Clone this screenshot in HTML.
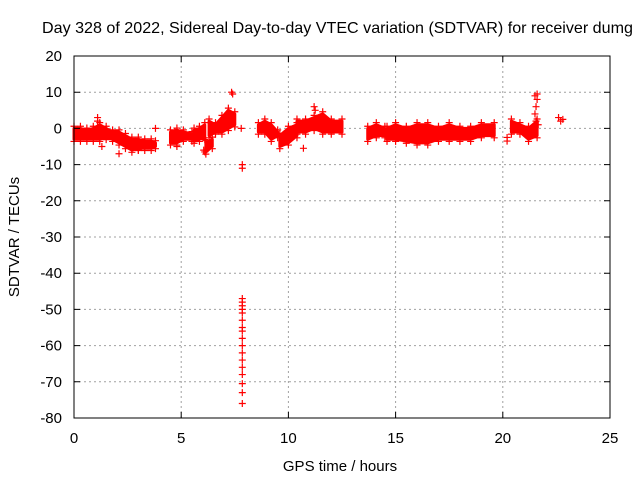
<!DOCTYPE html>
<html><head><meta charset="utf-8"><style>
body{margin:0;background:#fff;}
svg{display:block;font-family:"Liberation Sans",sans-serif;}
</style></head><body>
<svg id="chart" width="640" height="480">
<text x="42" y="33" font-size="16.1">Day 328 of 2022, Sidereal Day-to-day VTEC variation (SDTVAR) for receiver dumg</text>
<text x="340" y="471" font-size="15" text-anchor="middle">GPS time / hours</text>
<text transform="translate(19,237) rotate(-90)" font-size="15" text-anchor="middle">SDTVAR / TECUs</text>
<g id="grid"></g><g id="marks"></g><g id="axes"></g>
</svg>
<script>
const xTicks=[0,5,10,15,20,25];
const yTicks=[20,10,0,-10,-20,-30,-40,-50,-60,-70,-80];
// band clusters: times, lower envelope, upper envelope
const bandT=[[0,0.3,0.6,0.9,1.2,1.5,1.8,2.1,2.4,2.7,3.0,3.3,3.6,3.8],[4.5,4.8,5.1,5.5],[5.6,5.85,6.1],[6.15,6.45],[6.3,6.6,6.9,7.2,7.5],[8.6,8.9,9.2,9.5],[9.6,10.0,10.4],[10.4,10.8,11.2,11.6,12.0,12.5],[13.7,14.1,14.5],[14.6,15,15.5,16,16.5,17,17.5,18,18.5,19,19.6],[20.4,20.8,21.2,21.6]];
const bandLo=[[-3,-3,-3,-3,-3,-2.5,-3,-4,-5,-6,-5.5,-5.5,-5.5,-5],[-4,-4,-3,-3],[-3.5,-3,-2.5],[-6.5,-5],[-2,-1,-1,0,1],[-1,-1,-3,-2],[-5,-4,-2],[-1,-1,0,-1,-1,-1],[-3,-2,-2],[-3,-3,-3.5,-4,-4,-3,-3,-3,-3,-2,-2],[-1,-1,-3,-2]];
const bandHi=[[0,0,-0.5,0,1,0,-1,-1,-2,-3,-3,-3.5,-3.5,-4],[-1,-0.5,-1,-1.5],[-0.5,0,1],[-4,-3],[2,1,3,5,4],[1,2,1,-1],[-2,0,1],[2,2,3,4,2,2],[0,1,0],[0,1,0,1,1,0,1,0,0,1,1],[2,1,0,2]];
// isolated points
const ptT=[1.1,1.1,1.15,2.1,3.8,4.7,4.8,5.5,6.05,6.1,7.35,7.4,7.8,7.85,7.85,11.2,11.25,10.7,21.5,21.55,21.6,21.5,21.6,21.55,21.65,20.2,20.2,22.6,22.7,22.8,0.5,1.3,3.0];
const ptV=[3,2,-1,-7,0,-1,-5,-3,-6,-6.5,10,9.5,0,-10,-11,6,5,-5.5,4,6,8,9,9.5,2,1,-2.5,-3.5,3,2,2.5,-2,-5,-6];
// vertical streak near 7.85 h
const lineV=[-47,-48,-49,-50,-51,-53,-55,-56,-58,-60,-62,-64,-66,-68,-70.5,-73,-76];
const lineT=7.85;
const X0=74,X1=610,Y0=56,Y1=418;
const sx=h=>X0+(h-0)/(25-0)*(X1-X0);
const sy=v=>Y0+(20-v)/(100)*(Y1-Y0);
const NS="http://www.w3.org/2000/svg";
function mk(t,a,parent){const e=document.createElementNS(NS,t);for(const k in a)e.setAttribute(k,a[k]);parent.appendChild(e);return e;}
const grid=document.getElementById('grid'),marks=document.getElementById('marks'),axes=document.getElementById('axes');
xTicks.forEach(t=>{
 if(t>0&&t<25){const g=mk('line',{x1:sx(t),x2:sx(t),y1:Y0,y2:Y1,stroke:'#a0a0a0','stroke-dasharray':'2,3'},grid);
 
 }
 const tk=mk('path',{d:`M${sx(t)},${Y1}v-6M${sx(t)},${Y0}v6`,stroke:'#000'},axes);
 
 
 const l=mk('text',{x:sx(t),y:443,'font-size':15,'text-anchor':'middle'},axes);l.textContent=t;
 
 
});
yTicks.forEach(t=>{
 if(t<20&&t>-80){const g=mk('line',{x1:X0,x2:X1,y1:sy(t),y2:sy(t),stroke:'#a0a0a0','stroke-dasharray':'2,3'},grid);
 
 }
 const tk=mk('path',{d:`M${X0},${sy(t)}h6M${X1},${sy(t)}h-6`,stroke:'#000'},axes);
 
 
 const l=mk('text',{x:62,y:sy(t)+5,'font-size':15,'text-anchor':'end'},axes);l.textContent=t;
 
 
});
const fr=mk('rect',{x:X0,y:Y0,width:X1-X0,height:Y1-Y0,fill:'none',stroke:'#000'},axes);


function plus(h,v){const p=mk('path',{d:`M${sx(h)-3.5},${sy(v)}h7M${sx(h)},${sy(v)-3.5}v7`,stroke:'#f00','stroke-width':1.2},marks);
 
 }
bandT.forEach((ts,i)=>{
 const lo=bandLo[i],hi=bandHi[i];
 let d='M'+ts.map((t,j)=>sx(t)+','+sy(hi[j])).join('L');
 for(let j=ts.length-1;j>=0;j--)d+='L'+sx(ts[j])+','+sy(lo[j]);
 const p=mk('path',{d:d+'Z',fill:'#f00',stroke:'#f00','stroke-width':3,'stroke-linejoin':'round'},marks);
 
 
 ts.forEach((t,j)=>{plus(t,hi[j]+0.6);plus(t,lo[j]-0.6);});
});
ptT.forEach((t,i)=>plus(t,ptV[i]));
lineV.forEach(v=>plus(lineT,v));
</script>
</body></html>
